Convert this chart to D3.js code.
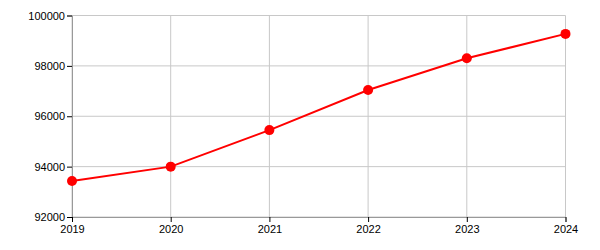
<!DOCTYPE html>
<html><head><meta charset="utf-8">
<script src="https://cdn.jsdelivr.net/npm/d3@7"></script>
<style>body{margin:0;background:#fff}svg{display:block}</style>
</head><body>
<script>
const years = [2019, 2020, 2021, 2022, 2023, 2024];
const values = [93430, 94000, 95450, 97040, 98300, 99270];
const yTicks = [92000, 94000, 96000, 98000, 100000];

const W = 600, H = 250;
const m = {left: 72, right: 34.5, top: 15.5, bottom: 33};
const svg = d3.select("body").append("svg").attr("width", W).attr("height", H);
const x = d3.scalePoint().domain(years).range([m.left, W - m.right]);
const y = d3.scaleLinear().domain([92000, 100000]).range([H - m.bottom, m.top]);

const g = svg.append("g");
// grid
g.selectAll(".hg").data(yTicks).enter().append("line")
  .attr("x1", m.left).attr("x2", W - m.right)
  .attr("y1", d => y(d)).attr("y2", d => y(d))
  .attr("stroke", "#c8c8c8").attr("stroke-width", 1);
g.selectAll(".vg").data(years).enter().append("line")
  .attr("x1", d => x(d)).attr("x2", d => x(d))
  .attr("y1", m.top).attr("y2", H - m.bottom)
  .attr("stroke", "#c8c8c8").attr("stroke-width", 1);

const ya = svg.append("g").attr("transform", `translate(${m.left},0)`)
  .call(d3.axisLeft(y).tickValues(yTicks).tickSize(5).tickPadding(2).tickFormat(d3.format("d")));
const xa = svg.append("g").attr("transform", `translate(0,${H - m.bottom})`)
  .call(d3.axisBottom(x).tickSize(5).tickPadding(3).tickFormat(d3.format("d")));
[ya, xa].forEach(a => {
  a.select(".domain").attr("stroke", "#999");
  a.selectAll(".tick line").attr("stroke", "#000");
  a.selectAll("text").attr("fill", "#000").style("font-family", "Liberation Sans, Arial, sans-serif").style("font-size", "11px");
});

const data = years.map((yr, i) => ({yr, v: values[i]}));
svg.append("path").datum(data)
  .attr("fill", "none").attr("stroke", "#ff0000").attr("stroke-width", 2)
  .attr("d", d3.line().x(d => x(d.yr)).y(d => y(d.v)));
svg.selectAll(".dot").data(data).enter().append("circle")
  .attr("cx", d => x(d.yr)).attr("cy", d => y(d.v)).attr("r", 5)
  .attr("fill", "#ff0000");
</script>
</body></html>
